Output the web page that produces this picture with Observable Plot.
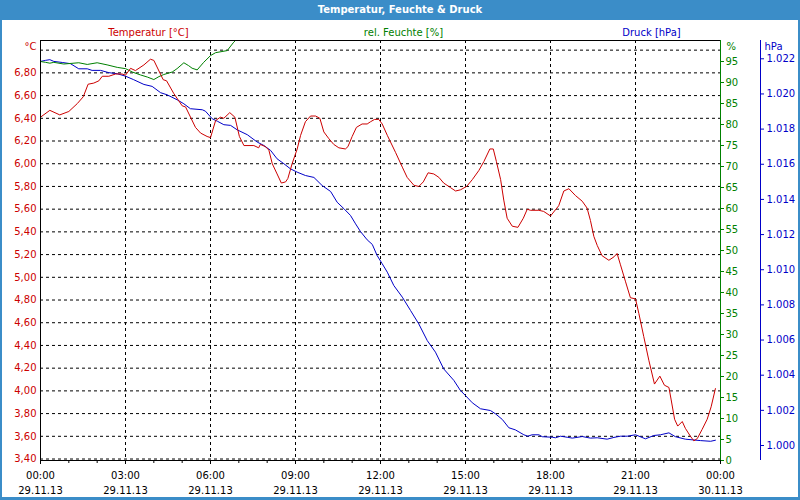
<!DOCTYPE html>
<html>
<head>
<meta charset="utf-8">
<script src="https://cdn.jsdelivr.net/npm/d3@7"></script>
<script src="https://cdn.jsdelivr.net/npm/@observablehq/plot@0.6"></script>
<style>
  html, body { margin: 0; padding: 0; background: #fff; }
  #wrap { position: relative; width: 800px; height: 500px; background: #3b8dc8; overflow: hidden; }
  #title { position: absolute; left: 0; top: 0; width: 800px; height: 20px; text-align: center;
           color: #fff; font: bold 10px/20px "DejaVu Sans", sans-serif; }
  #inner { position: absolute; left: 2px; top: 20px; width: 796px; height: 477px; background: #fff; }
  #chart { position: absolute; left: 0; top: 20px; }
</style>
</head>
<body>
<div id="wrap">
  <div id="title">Temperatur, Feuchte &amp; Druck</div>
  <div id="inner"></div>
  <div id="chart"></div>
</div>
<script>
// ---- data (hours since 29.11.13 00:00) ----
const tempHours = [0,0.33,0.68,1.0,1.30,1.51,1.68,1.88,2.06,2.18,2.41,2.65,2.88,3.0,3.18,3.35,3.65,3.88,4.0,4.33,4.45,4.70,5.0,5.12,5.47,5.65,5.88,6.0,6.18,6.35,6.47,6.68,6.86,7.02,7.18,7.53,7.70,7.76,7.94,8.06,8.18,8.35,8.50,8.65,8.73,8.88,9.06,9.18,9.35,9.53,9.71,9.86,10.0,10.18,10.35,10.53,10.76,10.85,11.0,11.15,11.35,11.53,11.65,11.79,11.94,12.06,12.24,12.53,12.77,12.94,13.18,13.35,13.51,13.68,13.88,14.06,14.23,14.47,14.65,14.82,15.04,15.24,15.47,15.65,15.86,15.98,16.09,16.24,16.35,16.47,16.65,16.85,17.04,17.18,17.29,17.59,17.76,18.0,18.29,18.47,18.65,18.88,19.12,19.29,19.41,19.53,19.65,19.82,20.06,20.24,20.35,20.47,20.65,20.82,21.0,21.12,21.29,21.47,21.67,21.86,22.02,22.18,22.26,22.38,22.49,22.65,22.76,22.94,23.06,23.18,23.35,23.53,23.67,23.82];
const tempValues = [6.41,6.47,6.43,6.46,6.53,6.59,6.70,6.71,6.73,6.77,6.77,6.79,6.79,6.78,6.84,6.82,6.87,6.92,6.91,6.74,6.73,6.62,6.51,6.50,6.32,6.27,6.24,6.23,6.38,6.41,6.40,6.45,6.41,6.24,6.16,6.16,6.14,6.17,6.15,6.12,6.00,5.91,5.83,5.84,5.87,6.00,6.13,6.25,6.37,6.42,6.42,6.40,6.28,6.22,6.17,6.14,6.13,6.15,6.24,6.32,6.35,6.35,6.37,6.39,6.39,6.35,6.25,6.10,5.97,5.88,5.81,5.80,5.84,5.92,5.91,5.88,5.83,5.79,5.76,5.77,5.80,5.86,5.94,6.02,6.13,6.13,6.02,5.86,5.68,5.52,5.45,5.44,5.52,5.60,5.59,5.59,5.58,5.54,5.63,5.76,5.78,5.72,5.67,5.61,5.50,5.36,5.28,5.19,5.15,5.18,5.21,5.11,4.96,4.82,4.81,4.68,4.48,4.27,4.06,4.13,4.05,4.03,3.92,3.75,3.69,3.73,3.67,3.60,3.56,3.58,3.66,3.75,3.86,4.02];

const humHours = [0,0.18,0.33,0.47,0.82,1.35,1.65,2.0,2.35,2.71,3.0,3.24,3.53,3.77,4.0,4.18,4.35,4.65,4.82,5.06,5.23,5.35,5.53,5.76,6.0,6.18,6.59,6.82,6.88];
const humValues = [95.0,94.8,94.6,94.8,94.4,94.7,94.3,94.7,94.2,93.6,93.3,92.5,91.8,91.3,90.7,91.4,91.9,92.5,93.3,94.7,94.0,93.4,93.0,94.8,96.4,97.1,97.6,99.6,100.0];

const pressHours = [0,0.18,0.33,0.47,0.77,1.06,1.35,1.65,1.82,2.12,2.41,2.71,3.0,3.29,3.65,3.94,4.24,4.47,4.82,5.06,5.29,5.71,5.82,6.06,6.24,6.47,6.71,6.94,7.30,7.65,7.88,8.12,8.35,8.59,8.82,9.06,9.35,9.65,9.94,10.24,10.47,10.71,10.94,11.12,11.29,11.53,11.71,11.88,12.06,12.24,12.47,12.77,13.06,13.35,13.65,13.94,14.23,14.59,14.82,15.0,15.24,15.53,15.88,16.06,16.30,16.53,16.76,17.06,17.20,17.35,17.59,17.71,18.06,18.18,18.35,18.59,18.77,19.12,19.41,19.65,20.0,20.24,20.47,20.71,21.0,21.35,21.65,21.88,22.18,22.41,22.76,23.29,23.65,23.82];
const pressValues = [1021.85,1021.91,1021.95,1021.85,1021.79,1021.72,1021.43,1021.43,1021.34,1021.34,1021.21,1021.15,1021.01,1020.81,1020.54,1020.43,1020.07,1019.95,1019.67,1019.44,1019.16,1019.10,1019.02,1018.59,1018.45,1018.25,1018.21,1017.96,1017.68,1017.26,1017.07,1016.79,1016.31,1016.03,1015.74,1015.55,1015.36,1015.25,1014.79,1014.45,1013.84,1013.47,1013.09,1012.61,1012.18,1011.70,1011.44,1010.81,1010.34,1009.86,1009.10,1008.44,1007.68,1006.92,1005.97,1005.31,1004.36,1003.70,1003.13,1002.84,1002.43,1002.09,1001.99,1001.80,1001.48,1001.01,1000.89,1000.61,1000.53,1000.61,1000.61,1000.50,1000.47,1000.44,1000.53,1000.47,1000.42,1000.51,1000.42,1000.44,1000.36,1000.46,1000.53,1000.53,1000.61,1000.38,1000.57,1000.61,1000.72,1000.50,1000.36,1000.28,1000.24,1000.30];

// ---- ticks & labels ----
const xTickHours = [0,3,6,9,12,15,18,21,24];
const xTimeLabels = ["00:00","03:00","06:00","09:00","12:00","15:00","18:00","21:00","00:00"];
const xDateLabels = ["29.11.13","29.11.13","29.11.13","29.11.13","29.11.13","29.11.13","29.11.13","29.11.13","30.11.13"];
const xMinorHours = d3.range(0, 25, 1);
const tempTicks = d3.range(0, 19).map(i => +(3.4 + i * 0.2).toFixed(2)); // 3.40 .. 7.00
const humTicks = d3.range(0, 100, 5);        // 0 .. 95
const pressTicks = d3.range(1000, 1023, 2);  // 1000 .. 1022
const seriesTitles = ["Temperatur [°C]", "rel. Feuchte [%]", "Druck [hPa]"];
const unitLabels = ["°C", "%", "hPa"];

// ---- colours ----
const RED = "#cc0000", GREEN = "#008000", BLUE = "#0000c8";

// ---- scales: temperature is the primary y; others mapped into it ----
const yDomain = [3.387, 7.085];
const humY = d3.scaleLinear([0, 100], yDomain);
const presY = d3.scaleLinear([999.147, 1023.04], yDomain);

const de = d3.formatLocale({decimal: ",", thousands: ".", grouping: [3], currency: ["", " €"]});
const fmtTemp = de.format(".2f");
const fmtPress = de.format(",d");

const temp = tempHours.map((h, i) => ({h, v: tempValues[i]}));
const hum = humHours.map((h, i) => ({h, v: humY(humValues[i])}));
const pres = pressHours.map((h, i) => ({h, v: presY(pressValues[i])}));

const dash = {stroke: "black", strokeDasharray: "3,3", strokeWidth: 1};

const chart = Plot.plot({
  width: 800,
  height: 480,
  marginLeft: 40,
  marginRight: 80,
  marginTop: 20,
  marginBottom: 40,
  style: {fontFamily: "DejaVu Sans, sans-serif", fontSize: "10px", background: "none", overflow: "visible"},
  x: {domain: [0, 24], axis: null},
  y: {domain: yDomain, axis: null},
  marks: [
    // grid
    Plot.ruleY(tempTicks, {y: d => d, ...dash}),
    Plot.ruleX(xTickHours.slice(1, -1), {x: d => d, ...dash}),
    // series
    Plot.line(pres, {x: "h", y: "v", stroke: BLUE, strokeWidth: 1, clip: true}),
    Plot.line(hum, {x: "h", y: "v", stroke: GREEN, strokeWidth: 1, clip: true}),
    Plot.line(temp, {x: "h", y: "v", stroke: RED, strokeWidth: 1, clip: true}),
    // frame
    Plot.ruleY([yDomain[1]], {y: d => d, stroke: "black"}),
    Plot.ruleY([yDomain[0]], {y: d => d, stroke: "black"}),
    Plot.ruleX([0], {x: d => d, stroke: "black"}),
    Plot.ruleX([24], {x: d => d, stroke: GREEN}),
    Plot.ruleX([24], {x: d => d, dx: 40, stroke: BLUE}),
    // left axis (temperature)
    Plot.axisY(tempTicks.slice(0, -1), {anchor: "left", tickSize: 0, tickPadding: 4, tickFormat: fmtTemp, color: RED, label: null}),
    Plot.text([unitLabels[0]], {frameAnchor: "top-left", dx: -4, dy: 6, textAnchor: "end", lineAnchor: "middle", fill: RED}),
    // right axis (humidity)
    Plot.axisY(humTicks.map(humY), {anchor: "right", tickSize: 3, tickPadding: 2, tickFormat: v => String(Math.round(humY.invert(v))), color: GREEN, label: null}),
    Plot.text([unitLabels[1]], {frameAnchor: "top-right", dx: 6, dy: 6, textAnchor: "start", lineAnchor: "middle", fill: GREEN}),
    // far right axis (pressure)
    Plot.axisY(pressTicks.map(presY), {anchor: "right", dx: 40, tickSize: 3, tickPadding: 3, tickFormat: v => fmtPress(Math.round(presY.invert(v))), color: BLUE, label: null}),
    Plot.text([unitLabels[2]], {frameAnchor: "top-right", dx: 44, dy: 6, textAnchor: "start", lineAnchor: "middle", fill: BLUE}),
    // x axis
    Plot.axisX(xMinorHours, {anchor: "bottom", tickSize: 3, tickFormat: () => "", label: null}),
    Plot.axisX(xTickHours, {anchor: "bottom", tickSize: 4, tickPadding: 7, tickFormat: d => xTimeLabels[xTickHours.indexOf(d)], label: null}),
    Plot.axisX(xTickHours, {anchor: "bottom", tickSize: 0, tickPadding: 26, tickFormat: d => xDateLabels[xTickHours.indexOf(d)], label: null}),
    // series titles
    Plot.text([seriesTitles[0]], {frameAnchor: "top-left", dx: 108, dy: -8, textAnchor: "middle", lineAnchor: "middle", fill: RED}),
    Plot.text([seriesTitles[1]], {frameAnchor: "top-left", dx: 363, dy: -8, textAnchor: "middle", lineAnchor: "middle", fill: GREEN}),
    Plot.text([seriesTitles[2]], {frameAnchor: "top-left", dx: 611, dy: -8, textAnchor: "middle", lineAnchor: "middle", fill: BLUE})
  ]
});
document.getElementById("chart").appendChild(chart);
</script>
</body>
</html>
